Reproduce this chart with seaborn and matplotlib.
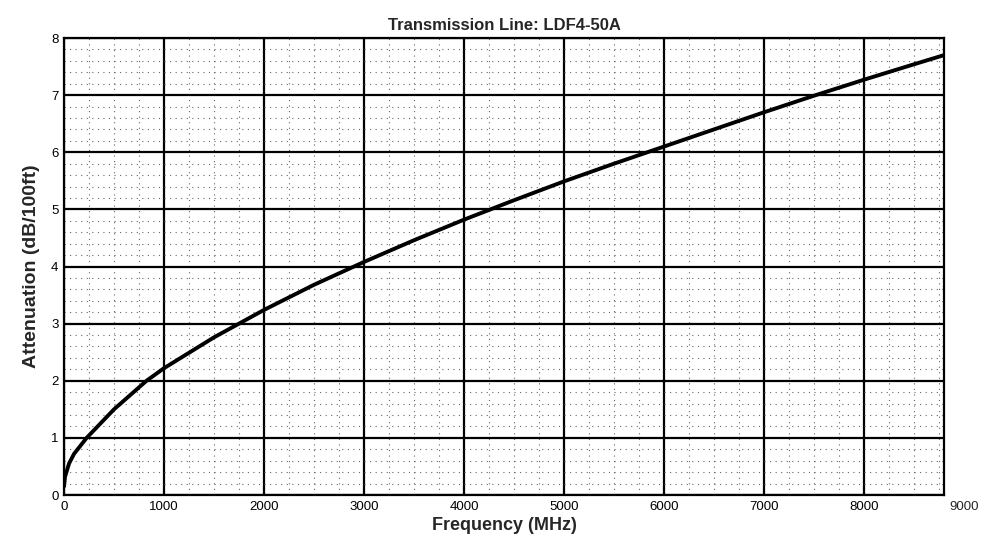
import numpy as np
import pandas as pd
import matplotlib
matplotlib.use("Agg")
import matplotlib.pyplot as plt
import seaborn as sns
from matplotlib.ticker import MultipleLocator

# values
freq_mhz = [0, 10, 50, 100, 226, 500, 825, 1000, 1500, 2000, 2500, 3000, 3500,
            4000, 4500, 5000, 5500, 6000, 6500, 7000, 7500, 8000, 8500, 8800]
atten_db = [0.15, 0.32, 0.55, 0.72, 1.0, 1.5, 2.0, 2.22, 2.76, 3.24, 3.68, 4.08,
            4.46, 4.82, 5.16, 5.49, 5.80, 6.10, 6.40, 6.70, 6.99, 7.27, 7.54, 7.70]
x_ticks = [0, 1000, 2000, 3000, 4000, 5000, 6000, 7000, 8000]
y_ticks = [0, 1, 2, 3, 4, 5, 6, 7, 8]

df = pd.DataFrame({"Frequency (MHz)": freq_mhz, "Attenuation (dB/100ft)": atten_db})

sns.set_style("white")
plt.rcParams["font.family"] = ["Liberation Sans", "DejaVu Sans"]

fig = plt.figure(figsize=(9.82, 5.46), dpi=100)
ax = fig.add_axes([0.0652, 0.0934, 0.8961, 0.837])

sns.lineplot(data=df, x="Frequency (MHz)", y="Attenuation (dB/100ft)",
             color="black", linewidth=2.8, ax=ax, zorder=5)

ax.set_xlim(0, 8800)
ax.set_ylim(0, 8)
ax.set_xticks(x_ticks)
ax.set_yticks(y_ticks)
ax.xaxis.set_minor_locator(MultipleLocator(250))
ax.yaxis.set_minor_locator(MultipleLocator(0.2))

ax.grid(which="major", color="black", linewidth=1.6)
ax.grid(which="minor", color="0.4", linewidth=0.8, linestyle=(0, (1, 4)))
ax.set_axisbelow(True)

for s in ax.spines.values():
    s.set_color("black")
    s.set_linewidth(1.6)

ax.tick_params(which="both", length=0, labelsize=9.5, colors="black", pad=4)

# last tick label sits past the plot edge
ax.annotate("9000", xy=(9000, 0), xycoords=ax.get_xaxis_transform(),
            xytext=(0, -4), textcoords="offset points",
            ha="center", va="top", fontsize=9.5, annotation_clip=False)

ax.set_title("Transmission Line: LDF4-50A", fontsize=12, fontweight="bold", pad=6)
ax.set_xlabel("Frequency (MHz)", fontsize=13, fontweight="bold", labelpad=3)
ax.set_ylabel("Attenuation (dB/100ft)", fontsize=14, fontweight="bold", labelpad=8)

fig.savefig("out.png", dpi=100)
